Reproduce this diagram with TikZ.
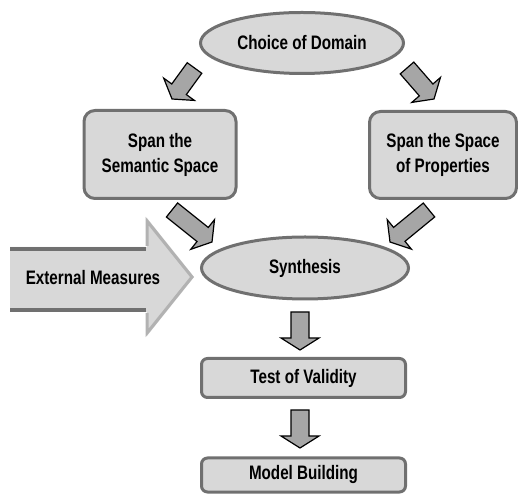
\documentclass[tikz,border=0pt]{standalone}
\usepackage{fontspec}
\setmainfont{Liberation Sans}[FakeStretch=0.78]
\usepackage{tikz}
\usetikzlibrary{shapes,arrows,positioning,calc}
\usepackage{xcolor}
\definecolor{stagegray}{RGB}{216,216,216}
\definecolor{edgegray}{RGB}{112,112,112}
\definecolor{flowgray}{RGB}{166,166,166}
\definecolor{bevelgray}{RGB}{178,178,178}

\tikzset{
    labelfont/.style={font=\fontsize{19.5}{25}\selectfont\bfseries},
    stage/.style={draw=edgegray, line width=3pt, fill=stagegray, rounded corners=11pt, align=center, labelfont},
    bubble/.style={ellipse, draw=edgegray, line width=3pt, fill=stagegray, inner sep=0pt, labelfont},
    flow/.style={draw=black, line width=1.2pt, fill=flowgray, line join=miter}
}

\newcommand{\flowarrow}[2]{%
    \coordinate (fh) at ($(#2)!12pt!(#1)$);
    \draw[flow] ($(#1)!9pt!90:(#2)$) -- ($(fh)!9pt!-90:(#1)$) -- ($(fh)!19pt!-90:(#1)$) -- (#2)
        -- ($(fh)!19pt!90:(#1)$) -- ($(fh)!9pt!90:(#1)$) -- ($(#1)!9pt!-90:(#2)$) -- cycle;
}

\begin{document}
\begin{tikzpicture}[x=1pt, y=1pt]
        \useasboundingbox (0,0) rectangle (518,494);

        \fill[stagegray] (10,247) -- (147,247) -- (147,276) -- (194,217) -- (147,158) -- (147,182) -- (10,182) -- cycle;
        \draw[bevelgray, line width=3pt] (147,248) -- (147,273) -- (192,217) -- (147,161) -- (147,181);
        \draw[edgegray, line width=4pt] (10,245) -- (146,245);
        \draw[edgegray, line width=4pt] (10,184) -- (146,184);
        \node[labelfont] (ext) at (93,216) {External Measures};

        \node[bubble, minimum width=203pt, minimum height=61pt] (dom) at (302,451) {Choice of Domain};
        \node[stage, minimum width=152pt, minimum height=88pt] (sem) at (160,339.5) {Span the\\Semantic Space};
        \node[stage, minimum width=147pt, minimum height=87pt] (prop) at (443,339) {Span the Space\\of Properties};
        \node[bubble, minimum width=207pt, minimum height=62pt] (syn) at (305,226) {Synthesis};
        \node[stage, rounded corners=6pt, minimum width=204pt, minimum height=39pt] (val) at (303.5,116) {Test of Validity};
        \node[stage, rounded corners=6pt, minimum width=204pt, minimum height=34pt] (model) at (303.5,19) {Model Building};

        \coordinate (a1s) at (194.5,426);
        \coordinate (a1e) at (172,395);
        \coordinate (a2s) at (407,426);
        \coordinate (a2e) at (434,395);
        \coordinate (a3s) at (172,284);
        \coordinate (a3e) at (212,252);
        \coordinate (a4s) at (429,284);
        \coordinate (a4e) at (390,252);
        \coordinate (a5s) at (300,182);
        \coordinate (a5e) at (300,144);
        \coordinate (a6s) at (300,84);
        \coordinate (a6e) at (300,46);

        \flowarrow{a1s}{a1e}
        \flowarrow{a2s}{a2e}
        \flowarrow{a3s}{a3e}
        \flowarrow{a4s}{a4e}
        \flowarrow{a5s}{a5e}
        \flowarrow{a6s}{a6e}
    \end{tikzpicture}
\end{document}
